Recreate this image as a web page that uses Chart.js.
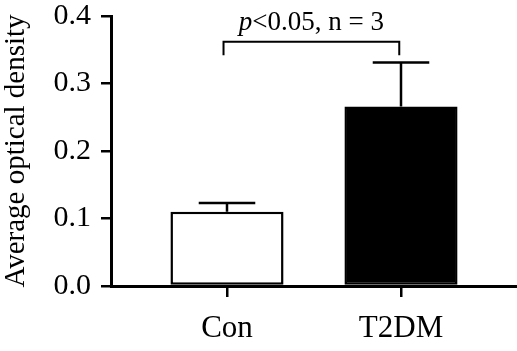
<!DOCTYPE html>
<html>
<head>
<meta charset="utf-8">
<script src="https://cdn.jsdelivr.net/npm/chart.js@4"></script>
<style>
  html, body { margin: 0; padding: 0; background: #fff; }
  #wrap { width: 517px; height: 351px; }
</style>
</head>
<body>
<div id="wrap"><canvas id="chart" width="517" height="351"></canvas></div>
<script>
'use strict';

// ── Data ──────────────────────────────────────────────────────────────────────

const groups    = ['Con', 'T2DM'];
const means     = [0.110, 0.266];
const errors    = [0.013, 0.065];
const barFills  = ['#ffffff', '#000000'];
const yTicks    = [0.0, 0.1, 0.2, 0.3, 0.4];
const sigLabel  = ['p', '<0.05, n = 3'];
const sigLevels = [0.362, 0.342, 0.379]; // bracket top, bracket foot, text baseline

const SERIF = "'Liberation Serif', 'DejaVu Serif', serif";

// ── Plugins ───────────────────────────────────────────────────────────────────

const errorBars = {
  id: 'errorBars',
  afterDatasetsDraw(chart) {
    const { ctx, scales: { y } } = chart;
    const meta = chart.getDatasetMeta(0);
    ctx.save();
    ctx.strokeStyle = '#000';
    ctx.lineWidth = 2.5;
    meta.data.forEach((bar, i) => {
      const top = y.getPixelForValue(means[i] + errors[i]);
      const half = bar.width / 4;
      ctx.beginPath();
      ctx.moveTo(bar.x, bar.y);
      ctx.lineTo(bar.x, top);
      ctx.moveTo(bar.x - half, top);
      ctx.lineTo(bar.x + half, top);
      ctx.stroke();
    });
    ctx.restore();
  },
};

const sigBracket = {
  id: 'sigBracket',
  afterDraw(chart) {
    const { ctx, scales: { x, y } } = chart;
    const x1 = x.getPixelForValue(-0.02);
    const x2 = x.getPixelForValue(0.99);
    const yTop = y.getPixelForValue(sigLevels[0]);
    const yFoot = y.getPixelForValue(sigLevels[1]);
    ctx.save();
    ctx.strokeStyle = '#000';
    ctx.lineWidth = 2;
    ctx.beginPath();
    ctx.moveTo(x1, yFoot);
    ctx.lineTo(x1, yTop);
    ctx.lineTo(x2, yTop);
    ctx.lineTo(x2, yFoot);
    ctx.stroke();

    // "p" italic, rest upright
    const italic = `italic 27px ${SERIF}`;
    const upright = `27px ${SERIF}`;
    ctx.font = italic;
    const w1 = ctx.measureText(sigLabel[0]).width;
    ctx.font = upright;
    const w2 = ctx.measureText(sigLabel[1]).width;
    const cx = (x1 + x2) / 2;
    const start = cx - (w1 + w2) / 2;
    const base = y.getPixelForValue(sigLevels[2]);
    ctx.fillStyle = '#000';
    ctx.textBaseline = 'alphabetic';
    ctx.textAlign = 'left';
    ctx.font = italic;
    ctx.fillText(sigLabel[0], start, base);
    ctx.font = upright;
    ctx.fillText(sigLabel[1], start + w1, base);
    ctx.restore();
  },
};

// ── Chart ─────────────────────────────────────────────────────────────────────

new Chart(document.getElementById('chart'), {
  type: 'bar',
  data: {
    datasets: [{
      data: groups.map((g, i) => ({ x: i, y: means[i] })),
      backgroundColor: barFills,
      borderColor: '#000',
      borderWidth: 2.5,
      borderSkipped: false,
      barPercentage: 0.65,
      categoryPercentage: 1,
    }],
  },
  options: {
    responsive: false,
    animation: false,
    layout: { padding: 0 },
    plugins: { legend: { display: false }, tooltip: { enabled: false } },
    scales: {
      x: {
        type: 'linear',
        offset: false,
        min: -2 / 3,
        max: 5 / 3,
        afterBuildTicks: axis => { axis.ticks = groups.map((g, i) => ({ value: i })); },
        afterFit: axis => { axis.height = 65; },
        grid: { display: true, offset: false, drawOnChartArea: false, drawTicks: true, tickLength: 11, color: '#000', lineWidth: 2.5 },
        border: { display: true, color: '#000', width: 3 },
        ticks: {
          color: '#000',
          padding: 16,
          maxRotation: 0,
          autoSkip: false,
          font: { family: SERIF, size: 31, lineHeight: 1 },
          callback: v => groups[v] ?? '',
        },
      },
      y: {
        min: 0,
        max: 0.4,
        afterBuildTicks: axis => { axis.ticks = yTicks.map(v => ({ value: v })); },
        afterFit: axis => {
          axis.width = 111;
          axis.paddingTop = 16;
          axis.paddingBottom = 0;
        },
        grid: { display: true, drawOnChartArea: false, drawTicks: true, tickLength: 10, color: '#000', lineWidth: 2.5 },
        border: { display: true, color: '#000', width: 3 },
        ticks: {
          color: '#000',
          padding: 10,
          font: { family: SERIF, size: 30, lineHeight: 1 },
          callback: v => v.toFixed(1),
        },
        title: {
          display: true,
          text: 'Average optical density',
          color: '#000',
          padding: 0,
          font: { family: SERIF, size: 29, lineHeight: 1.1 },
        },
      },
    },
  },
  plugins: [errorBars, sigBracket],
});
</script>
</body>
</html>
